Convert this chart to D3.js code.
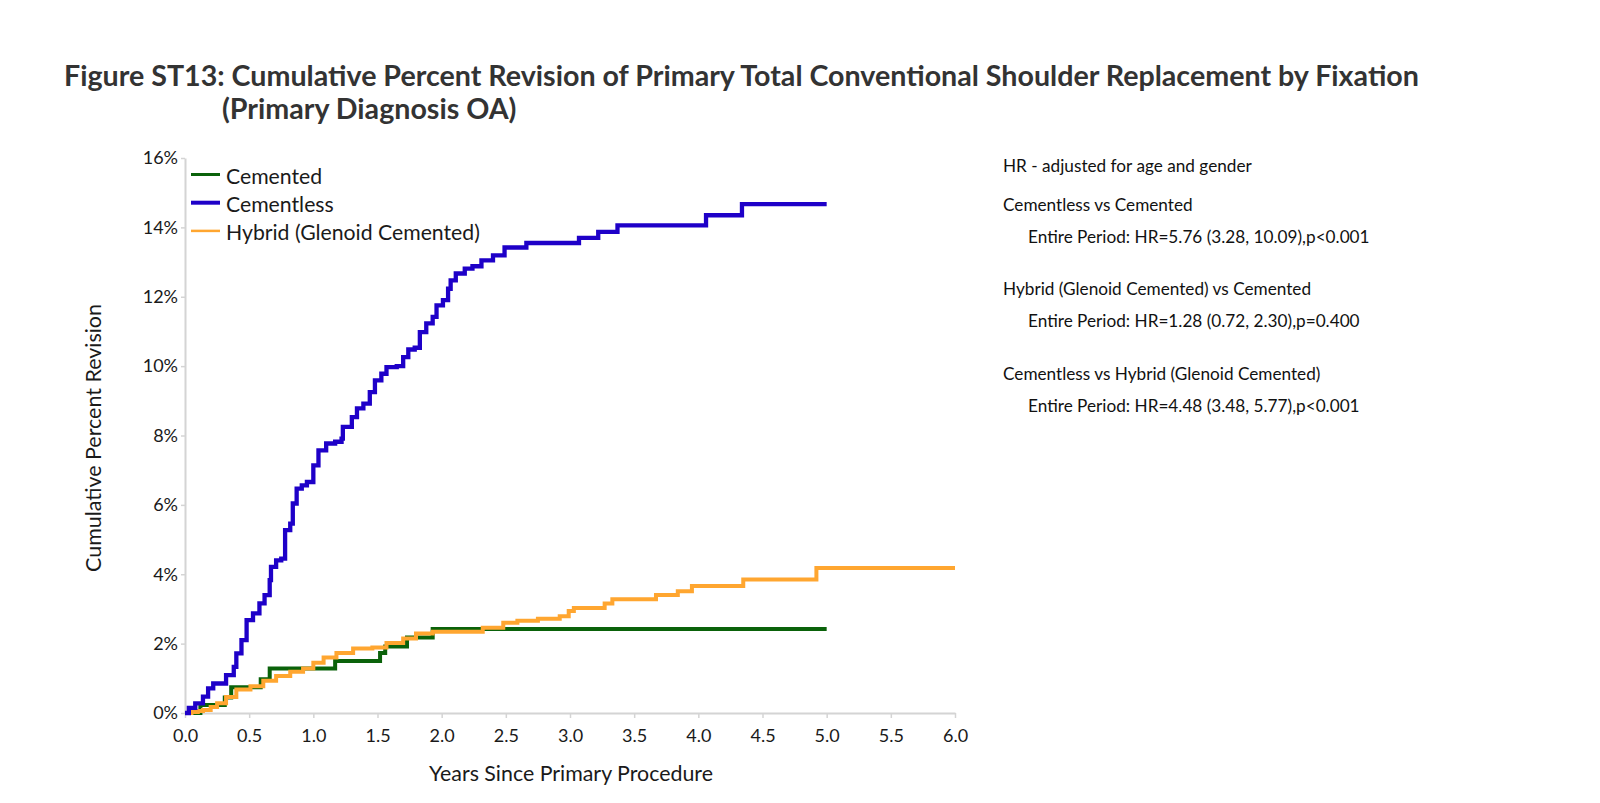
<!DOCTYPE html>
<html>
<head>
<meta charset="utf-8">
<script src="https://cdn.jsdelivr.net/npm/d3@7"></script>
<style>
  html, body { margin: 0; padding: 0; background: #fff; }
  svg { display: block; }
</style>
</head>
<body>
<svg id="chart" width="1600" height="803"></svg>
<script>
// ---------------- DATA ----------------
const seriesNames = ["Cemented", "Cementless", "Hybrid (Glenoid Cemented)"];

const cementedYears = [0, 0.12, 0.31, 0.36, 0.59, 0.66, 1.17, 1.52, 1.56, 1.73, 1.93, 5.0];
const cementedPct   = [0, 0.23, 0.45, 0.74, 0.97, 1.28, 1.50, 1.73, 1.92, 2.18, 2.42, 2.42];

const cementlessYears = [0, 0.03, 0.08, 0.14, 0.18, 0.22, 0.32, 0.38, 0.40, 0.44, 0.48, 0.53, 0.58, 0.62, 0.66, 0.67, 0.71, 0.75,
  0.78, 0.82, 0.84, 0.87, 0.91, 0.95, 1.00, 1.04, 1.10, 1.17, 1.22, 1.23, 1.30, 1.34, 1.39, 1.44, 1.48, 1.53, 1.57, 1.65,
  1.70, 1.74, 1.79, 1.83, 1.88, 1.93, 1.96, 2.01, 2.05, 2.07, 2.11, 2.18, 2.24, 2.31, 2.40, 2.49, 2.66, 3.07, 3.22, 3.37,
  4.06, 4.34, 5.0];
const cementlessPct = [0, 0.15, 0.28, 0.47, 0.71, 0.85, 1.09, 1.33, 1.72, 2.10, 2.68, 2.87, 3.16, 3.40, 3.83, 4.21, 4.40, 4.45,
  5.27, 5.46, 6.04, 6.47, 6.56, 6.66, 7.14, 7.57, 7.77, 7.82, 7.91, 8.25, 8.53, 8.78, 8.92, 9.25, 9.59, 9.78, 9.97, 10.00,
  10.26, 10.48, 10.53, 10.98, 11.23, 11.42, 11.75, 11.90, 12.23, 12.47, 12.67, 12.81, 12.88, 13.05, 13.19, 13.42, 13.55, 13.70, 13.87, 14.06,
  14.35, 14.67, 14.67];

const hybridYears = [0, 0.05, 0.10, 0.14, 0.20, 0.25, 0.32, 0.40, 0.51, 0.61, 0.71, 0.82, 0.92, 1.00, 1.08, 1.18, 1.31, 1.46, 1.57,
  1.70, 1.80, 1.93, 2.32, 2.48, 2.59, 2.75, 2.92, 2.99, 3.03, 3.27, 3.33, 3.67, 3.84, 3.95, 4.35, 4.92, 6.0];
const hybridPct   = [0, 0.03, 0.06, 0.09, 0.17, 0.28, 0.46, 0.68, 0.77, 0.93, 1.07, 1.19, 1.28, 1.45, 1.60, 1.73, 1.86, 1.89, 2.02,
  2.15, 2.29, 2.34, 2.46, 2.60, 2.66, 2.72, 2.79, 2.94, 3.03, 3.16, 3.28, 3.40, 3.51, 3.66, 3.85, 4.18, 4.18];

const yTickValues = [0, 2, 4, 6, 8, 10, 12, 14, 16];
const xTickValues = [0, 0.5, 1, 1.5, 2, 2.5, 3, 3.5, 4, 4.5, 5, 5.5, 6];

const titleLines = [
  "Figure ST13: Cumulative Percent Revision of Primary Total Conventional Shoulder Replacement by Fixation",
  "(Primary Diagnosis OA)"
];
const xAxisTitle = "Years Since Primary Procedure";
const yAxisTitle = "Cumulative Percent Revision";
const noteLines = [
  "HR - adjusted for age and gender",
  "Cementless vs Cemented",
  "Entire Period: HR=5.76 (3.28, 10.09),p<0.001",
  "Hybrid (Glenoid Cemented) vs Cemented",
  "Entire Period: HR=1.28 (0.72, 2.30),p=0.400",
  "Cementless vs Hybrid (Glenoid Cemented)",
  "Entire Period: HR=4.48 (3.48, 5.77),p<0.001"
];

// ---------------- STYLE ----------------
const colors = { "Cemented": "#0a620a", "Cementless": "#1e00c8", "Hybrid (Glenoid Cemented)": "#ffa630" };
const bodyFont = "Lato, 'Open Sans', sans-serif";
const axisGray = "#d4d4d4";

const svg = d3.select("#chart");
svg.append("rect").attr("width", 1600).attr("height", 803).attr("fill", "#fff");

function fitSize(sel, target) {
  const w = sel.node().getComputedTextLength();
  const fs = parseFloat(sel.attr("font-size"));
  const nfs = fs * target / w;
  sel.attr("font-size", nfs);
  return nfs;
}

// ---------------- SCALES ----------------
const x = d3.scaleLinear().domain([0, 6]).range([185, 955]);
const y = d3.scaleLinear().domain([0, 16]).range([713, 158]);

// ---------------- AXES ----------------
const yAxis = svg.append("g").attr("transform", `translate(${x(0)},0)`)
  .call(d3.axisLeft(y).tickValues(yTickValues).tickFormat(d => d + "%").tickSize(4).tickSizeOuter(0).tickPadding(3));
yAxis.select(".domain").attr("stroke", axisGray).attr("stroke-width", 2);
yAxis.selectAll(".tick line").attr("stroke", axisGray).attr("stroke-width", 1.5);
yAxis.selectAll(".tick text").attr("font-family", bodyFont).attr("font-size", 18).attr("fill", "#1a1a1a");

const xAxis = svg.append("g").attr("transform", `translate(0,${y(0)})`)
  .call(d3.axisBottom(x).tickValues(xTickValues).tickFormat(d3.format(".1f")).tickSize(5).tickSizeOuter(0).tickPadding(11));
xAxis.select(".domain").attr("stroke", axisGray).attr("stroke-width", 2);
xAxis.selectAll(".tick line").attr("stroke", axisGray).attr("stroke-width", 1.5);
xAxis.selectAll(".tick text").attr("font-family", bodyFont).attr("font-size", 18).attr("fill", "#1a1a1a");

// ---------------- LINES ----------------
const line = d3.line().x(d => x(d[0])).y(d => y(d[1])).curve(d3.curveStepAfter);
const series = [
  { name: "Cemented", data: d3.zip(cementedYears, cementedPct), w: 4 },
  { name: "Hybrid (Glenoid Cemented)", data: d3.zip(hybridYears, hybridPct), w: 4 },
  { name: "Cementless", data: d3.zip(cementlessYears, cementlessPct), w: 4.3 }
];
svg.append("g").selectAll("path").data(series).join("path")
  .attr("d", d => line(d.data))
  .attr("fill", "none")
  .attr("stroke", d => colors[d.name])
  .attr("stroke-width", d => d.w)
  .attr("stroke-linejoin", "miter")
  .attr("stroke-linecap", "butt");

// ---------------- LEGEND ----------------
const legendWidths = { "Cemented": 3, "Cementless": 4, "Hybrid (Glenoid Cemented)": 2.5 };
const lg = svg.append("g");
const legendRows = lg.selectAll("g").data(seriesNames).join("g")
  .attr("transform", (d, i) => `translate(0,${174.5 + i * 28.2})`);
legendRows.append("line").attr("x1", 191).attr("x2", 220).attr("y1", 0).attr("y2", 0)
  .attr("stroke", d => colors[d]).attr("stroke-width", d => legendWidths[d]);
const legendTexts = legendRows.append("text").attr("x", 226).attr("y", 9)
  .attr("font-family", bodyFont).attr("font-size", 20).attr("fill", "#1a1a1a").text(d => d);
const lfs = fitSize(legendTexts.filter((d, i) => i === 2), 254);
legendTexts.attr("font-size", lfs);

// ---------------- AXIS TITLES ----------------
const xt = svg.append("text").attr("x", 571).attr("y", 781).attr("text-anchor", "middle")
  .attr("font-family", bodyFont).attr("font-size", 19).attr("fill", "#1a1a1a").text(xAxisTitle);
fitSize(xt, 284);
const yt = svg.append("text").attr("transform", "translate(101,438) rotate(-90)").attr("text-anchor", "middle")
  .attr("font-family", bodyFont).attr("font-size", 19).attr("fill", "#1a1a1a").text(yAxisTitle);
fitSize(yt, 268);

// ---------------- TITLE ----------------
const t1 = svg.append("text").attr("x", 64).attr("y", 86)
  .attr("font-family", "Lato, 'DejaVu Sans', sans-serif").attr("font-weight", "bold")
  .attr("font-size", 25).attr("fill", "#333").text(titleLines[0]);
const tfs = fitSize(t1, 1356);
svg.append("text").attr("x", 222).attr("y", 119)
  .attr("font-family", "Lato, 'DejaVu Sans', sans-serif").attr("font-weight", "bold")
  .attr("font-size", tfs).attr("fill", "#333").text(titleLines[1]);

// ---------------- NOTES ----------------
const noteY = [171.7, 210.7, 243.3, 295, 327.2, 380, 412.2];
const noteX = [1003, 1003, 1028, 1003, 1028, 1003, 1028];
const notes = svg.append("g").selectAll("text").data(noteLines).join("text")
  .attr("x", (d, i) => noteX[i]).attr("y", (d, i) => noteY[i])
  .attr("font-family", bodyFont).attr("font-size", 17).attr("fill", "#111").text(d => d);
const nfs = fitSize(notes.filter((d, i) => i === 6), 332);
notes.attr("font-size", nfs);
</script>
</body>
</html>
